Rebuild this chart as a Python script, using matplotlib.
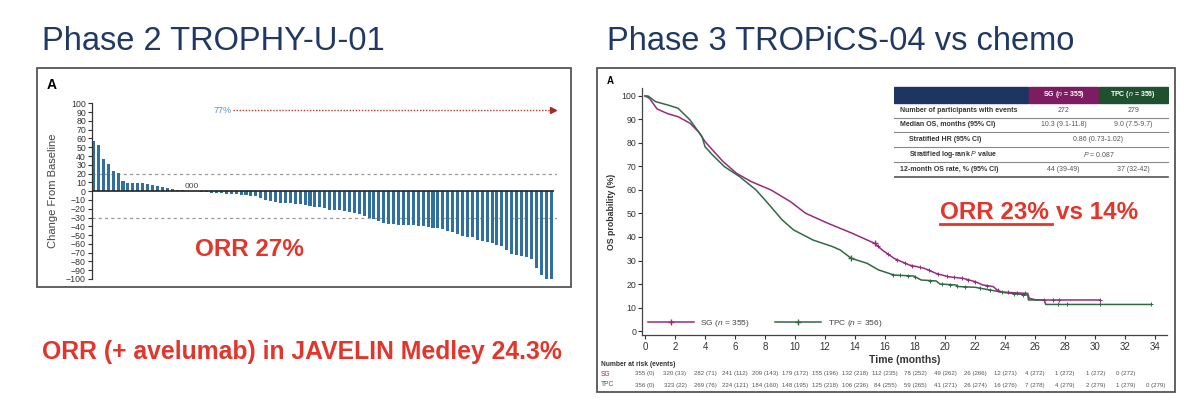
import numpy as np
import matplotlib
matplotlib.use("Agg")
import matplotlib.pyplot as plt
from matplotlib.patches import Rectangle
from matplotlib.lines import Line2D
from matplotlib.transforms import blended_transform_factory

plt.rcParams["font.family"] = ["Liberation Sans", "DejaVu Sans"]
plt.rcParams["mathtext.fontset"] = "custom"
plt.rcParams["mathtext.rm"] = "Liberation Sans"
plt.rcParams["mathtext.it"] = "Liberation Sans:italic"
plt.rcParams["mathtext.bf"] = "Liberation Sans:bold"

# ── Data: TROPHY-U-01 waterfall (best % change from baseline, sorted) ──
change = [57, 52, 37, 31, 23, 21, 12, 9.5, 9.5, 9.5, 9, 8, 7, 6, 5, 4, 2.5, 1.5, 1,
          0, 0, 0,
          -0.5, -1, -2, -2.5, -2.5, -3, -3, -3.5, -4, -4,
          -5, -6, -8, -10, -11, -12, -13, -13.5, -14, -14.5,
          -15, -16, -17, -17.5, -18.5, -19.5, -21, -21.5, -22, -23,
          -24, -25, -26, -28, -30, -32, -34, -36, -37, -37.5,
          -38, -38, -38.5, -39, -39.5, -40, -41, -42, -42.5,
          -43, -45, -46, -49, -51, -52.5, -52.5, -56, -57, -58, -59, -61,
          -63, -67, -71.5, -73, -74, -75, -77, -87, -95, -100, -100]
pr_threshold = 20
orr_threshold = -30
arrow_value = 92

# ── Data: TROPiCS-04 OS Kaplan-Meier ──
sg_t = [0, 0.3, 0.8, 1.5, 2.2, 3.0, 3.6, 4.0, 4.5, 5.2, 6.1, 7.1, 8.4, 9.7, 10.7,
        12.2, 13.8, 15.3, 15.8, 16.6, 17.6, 18.6, 19.4, 20.2, 21.2, 22.0, 22.5,
        23.2, 23.6, 24.5, 25.5, 25.6, 26.1, 30.3]
sg_s = [100, 99, 94.5, 92.5, 91.2, 88.4, 84.5, 80.6, 77.0, 72.1, 67.1, 63.5, 60.0,
        55.0, 50.1, 45.8, 41.6, 37.3, 34.5, 30.9, 28.1, 26.7, 24.5, 23.1, 22.4, 21.0,
        19.6, 18.9, 16.7, 16.3, 16.0, 13.9, 13.2, 13.2]
tpc_t = [0, 0.2, 0.7, 1.5, 2.2, 3.0, 3.8, 4.0, 4.5, 5.3, 6.3, 7.4, 8.1, 9.15, 9.9,
         11.2, 12.5, 13.0, 13.75, 14.8, 15.55, 16.6, 17.9, 18.4, 19.4, 19.65, 20.7,
         20.9, 22.0, 23.2, 24.0, 25.5, 25.55, 26.6, 26.7, 33.7]
tpc_s = [100, 100, 97.6, 96.2, 94.8, 89.8, 82.7, 78.4, 74.9, 69.9, 65.7, 60.0, 55.0,
         47.2, 43.0, 38.7, 35.9, 34.5, 30.9, 28.8, 26.0, 23.8, 23.4, 21.7, 21.3, 20.0,
         19.6, 18.9, 18.6, 17.2, 16.3, 15.3, 13.2, 13.2, 11.3, 11.3]
sg_cens = [15.5, 16.2, 16.8, 17.3, 17.8, 18.3, 18.9, 19.5, 20.1, 20.6, 21.1, 21.5,
           22.0, 22.8, 23.5, 24.2, 24.8, 25.3, 26.6, 27.2, 27.6, 30.3]
tpc_cens = [16.5, 17.0, 17.5, 18.0, 19.0, 19.8, 20.3, 20.8, 21.3, 22.3, 23.0, 23.8,
            24.6, 25.2, 27.5, 28.1, 30.3, 33.7]

risk_months = list(range(0, 35, 2))
sg_risk = ["355 (0)", "320 (33)", "282 (71)", "241 (112)", "209 (143)", "179 (172)",
           "155 (196)", "132 (218)", "112 (235)", "78 (252)", "49 (262)", "26 (266)",
           "12 (271)", "4 (272)", "1 (272)", "1 (272)", "0 (272)"]
tpc_risk = ["356 (0)", "323 (22)", "269 (76)", "224 (121)", "184 (160)", "148 (195)",
            "125 (218)", "106 (236)", "84 (255)", "59 (265)", "41 (271)", "26 (274)",
            "16 (276)", "7 (278)", "4 (279)", "2 (279)", "1 (279)", "0 (279)"]

table_rows = ["Number of participants with events", "Median OS, months (95% CI)",
              "Stratified HR (95% CI)", r"Stratified log-rank $\it{P}$ value",
              "12-month OS rate, % (95% CI)"]
table_sg = ["272", "10.3 (9.1-11.8)", None, None, "44 (39-49)"]
table_tpc = ["279", "9.0 (7.5-9.7)", None, None, "37 (32-42)"]
table_both = [None, None, "0.86 (0.73-1.02)", r"$\it{P}$ = 0.087", None]
table_indent = [False, False, True, True, False]

# ── Colours ──
RED = "#e2352b"
NAVY = "#1f3864"
BAR = "#30709f"
SG_C = "#992a7d"
TPC_C = "#2f6a45"
SG_HEAD = "#7d1c60"
TPC_HEAD = "#1f5131"
TAB_HEAD = "#1e3462"

W, H = 1200, 416


def frect(l, t, r, b):
    return [l / W, 1 - b / H, (r - l) / W, (b - t) / H]


def fx(x):
    return x / W


def fy(y):
    return 1 - y / H


fig = plt.figure(figsize=(W / 100, H / 100), dpi=100)
fig.patch.set_facecolor("white")

# ── Slide titles / captions ──
fig.text(fx(42), fy(50), "Phase 2 TROPHY-U-01", fontsize=23.5, color=NAVY,
         ha="left", va="baseline")
fig.text(fx(607), fy(50), "Phase 3 TROPiCS-04 vs chemo", fontsize=23.5, color=NAVY,
         ha="left", va="baseline")
fig.text(fx(42), fy(352), "ORR (+ avelumab) in JAVELIN Medley 24.3%", fontsize=17.8,
         color=RED, fontweight="bold", ha="left", va="center")

# panel frames
for l, t, r, b in [(37, 68, 571, 287), (597, 68, 1175, 392)]:
    fig.add_artist(Rectangle((fx(l), fy(b)), (r - l) / W, (b - t) / H,
                             transform=fig.transFigure, fill=False,
                             edgecolor="#555", linewidth=1.3))

# ── Left: waterfall ──
ax1 = fig.add_axes(frect(91.5, 103.3, 557, 279))
idx = np.arange(len(change))
ax1.bar(idx, change, width=0.62, color=BAR, zorder=2)
ax1.set_xlim(-0.4, 94.2)
ax1.set_ylim(-100, 100)
ax1.set_yticks(np.arange(-100, 101, 10))
ax1.set_yticklabels([f"{v}" if v >= 0 else f"\u2212{-v}" for v in range(-100, 101, 10)])
ax1.set_xticks([])
for s in ("top", "right", "bottom"):
    ax1.spines[s].set_visible(False)
ax1.spines["left"].set_color("#333")
ax1.spines["left"].set_linewidth(0.9)
ax1.tick_params(axis="y", labelsize=6.3, colors="#333", length=3, width=0.8, pad=1)
ax1.hlines(0, -0.4, len(change) - 0.5, color="#222", linewidth=1.2, zorder=3)
ax1.axhline(pr_threshold, color="#999", linestyle=(0, (2.5, 2.5)), linewidth=0.9, zorder=1)
ax1.axhline(orr_threshold, color="#999", linestyle=(0, (2.5, 2.5)), linewidth=0.9, zorder=1)
ax1.text(20, 0.8, "000", ha="center", va="bottom", fontsize=6, color="#444")
ax1.text(28.0, arrow_value, "77%", ha="right", va="center", fontsize=6.5, color="#5d93c9")
ax1.plot([28.3, 93.3], [arrow_value, arrow_value], linestyle=(0, (1, 1.2)),
         color="#c0392b", linewidth=1)
ax1.plot([93.3], [arrow_value], marker=">", markersize=4, color="#a52a2a")
ax1.set_ylabel("Change From Baseline", fontsize=8, color="#444")
ax1.yaxis.set_label_coords(-0.072, 0.5)
fig.text(fx(47), fy(85), "A", fontsize=10, fontweight="bold", ha="left", va="center")
fig.text(fx(195), fy(250), "ORR 27%", fontsize=17.5, fontweight="bold", color=RED,
         ha="left", va="center")

# ── Right: Kaplan-Meier ──
ax2 = fig.add_axes(frect(642, 88, 1167, 335))
ax2.set_xlim(-0.2, 34.78)
ax2.set_ylim(-1.7, 103.4)
ax2.plot(sg_t, sg_s, color=SG_C, linewidth=1.1, label=r"SG ($\it{n}$ = 355)",
         marker="+", markevery=[len(sg_t) // 2], markersize=5)
ax2.plot(tpc_t, tpc_s, color=TPC_C, linewidth=1.1, label=r"TPC ($\it{n}$ = 356)",
         marker="+", markevery=[len(tpc_t) // 2], markersize=5)
ax2.plot(sg_cens, np.interp(sg_cens, sg_t, sg_s), linestyle="none", marker="+",
         markersize=3.5, color=SG_C, markeredgewidth=0.7)
ax2.plot(tpc_cens, np.interp(tpc_cens, tpc_t, tpc_s), linestyle="none", marker="+",
         markersize=3.5, color=TPC_C, markeredgewidth=0.7)
ax2.set_xticks(np.arange(0, 35, 2))
ax2.set_yticks(np.arange(0, 101, 10))
for s in ("top", "right"):
    ax2.spines[s].set_visible(False)
for s in ("left", "bottom"):
    ax2.spines[s].set_color("#444")
    ax2.spines[s].set_linewidth(0.9)
ax2.tick_params(axis="x", labelsize=7, colors="#333", length=3, width=0.8, pad=2)
ax2.tick_params(axis="y", labelsize=6.3, colors="#333", length=3, width=0.8, pad=1)
ax2.set_xlabel("Time (months)", fontsize=7.5, fontweight="bold", color="#333", labelpad=2)
ax2.set_ylabel("OS probability (%)", fontsize=6.3, fontweight="bold", color="#333")
ax2.yaxis.set_label_coords(-0.05, 0.5)
leg = ax2.legend(loc="lower left", ncol=2, frameon=False, fontsize=6, handlelength=5.5,
                 columnspacing=3, bbox_to_anchor=(0.0, 0.0), borderaxespad=0.3)
for t in leg.get_texts():
    t.set_color("#444")
fig.text(fx(607), fy(81), "A", fontsize=7, fontweight="bold", ha="left", va="center")

# number at risk
bt = blended_transform_factory(ax2.transData, fig.transFigure)
fig.text(fx(601), fy(364), "Number at risk (events)", fontsize=4.8, fontweight="bold",
         color="#333", va="center")
fig.text(fx(601), fy(374), "SG", fontsize=4.8, color=SG_C, va="center")
fig.text(fx(601), fy(385), "TPC", fontsize=4.8, color=TPC_C, va="center")
for m, s in zip(risk_months, sg_risk):
    ax2.text(m, fy(374), s, transform=bt, fontsize=4.4, color="#555", ha="center",
             va="center")
for m, s in zip(risk_months, tpc_risk):
    ax2.text(m, fy(385), s, transform=bt, fontsize=4.4, color="#555", ha="center",
             va="center")

# summary table (pixel layout)
ax3 = fig.add_axes(frect(894, 86, 1169, 179))
ax3.set_xlim(894, 1169)
ax3.set_ylim(179, 86)
ax3.axis("off")
c0, c1, c2, c3 = 894, 1028.5, 1098.5, 1168
ax3.add_patch(Rectangle((c0, 87.3), c1 - c0 - 1, 15.4, color=TAB_HEAD))
ax3.add_patch(Rectangle((c1, 87.3), c2 - c1 - 1, 15.4, color=SG_HEAD))
ax3.add_patch(Rectangle((c2, 87.3), c3 - c2, 15.4, color=TPC_HEAD))
ax3.text((c1 + c2) / 2, 95, r"SG ($\it{n}$ = 355)", color="white", fontsize=5,
         fontweight="bold", ha="center", va="center")
ax3.text((c2 + c3) / 2, 95, r"TPC ($\it{n}$ = 356)", color="white", fontsize=5,
         fontweight="bold", ha="center", va="center")
row_top = 102.7
row_h = 14.8
for i, lab in enumerate(table_rows):
    yc = row_top + row_h * (i + 0.5)
    xl = c0 + (15 if table_indent[i] else 5.5)
    ax3.text(xl, yc, lab, fontsize=5, fontweight="bold", color="#333", va="center")
    if table_sg[i] is not None:
        ax3.text((c1 + c2) / 2, yc, table_sg[i], fontsize=5, color="#555",
                 ha="center", va="center")
        ax3.text((c2 + c3) / 2, yc, table_tpc[i], fontsize=5, color="#555",
                 ha="center", va="center")
    else:
        ax3.text(c2, yc, table_both[i], fontsize=5, color="#555", ha="center",
                 va="center")
    yl = row_top + row_h * (i + 1)
    ax3.plot([c0, c3], [yl, yl], color="#888" if i < 4 else "#555",
             linewidth=0.8 if i < 4 else 1.2)

# ORR 23% vs 14% with underlined first part
t1 = fig.text(fx(940), fy(213), "ORR 23% ", fontsize=17.5, fontweight="bold",
              color=RED, ha="left", va="center")
fig.canvas.draw()
bb = t1.get_window_extent(renderer=fig.canvas.get_renderer())
bb = bb.transformed(fig.transFigure.inverted())
fig.text(bb.x1, fy(213), "vs 14%", fontsize=17.5, fontweight="bold", color=RED,
         ha="left", va="center")
fig.add_artist(Line2D([bb.x0, bb.x1 - 0.003], [fy(224), fy(224)], color=RED,
                      linewidth=2, transform=fig.transFigure))

fig.savefig("out.png", dpi=100, facecolor="white")
